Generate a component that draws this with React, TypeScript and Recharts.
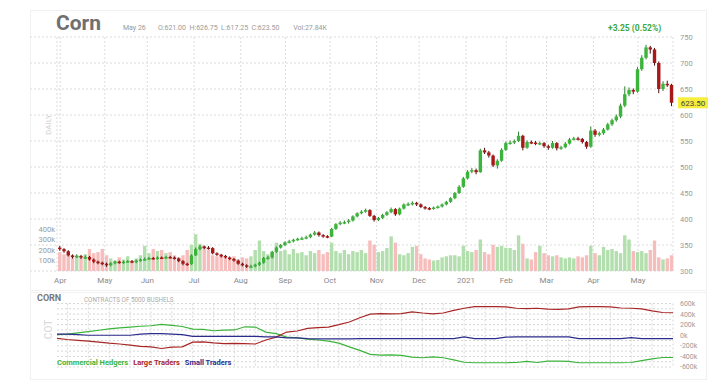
import {
  Bar,
  CartesianGrid,
  Cell,
  ComposedChart,
  Line,
  LineChart,
  ReferenceLine,
  XAxis,
  YAxis,
} from "recharts";

// one candle per two trading sessions, Apr 2020 .. May 26 2021
const closes = [
  342, 338, 330, 327, 329, 326, 327, 322, 318, 316,
  314, 311, 315, 318, 316, 318, 319, 317, 320, 322,
  323, 325, 324, 326, 325, 327, 326, 324, 319, 314,
  313, 330, 342, 347, 345, 344, 334, 331, 329, 326,
  323, 320, 314, 311, 309, 309, 312, 316, 325, 326,
  337, 345, 350, 355, 357, 360, 362, 363, 365, 370,
  374, 369, 367, 366, 381, 390, 393, 394, 397, 405,
  411, 414, 417, 406, 398, 402, 408, 413, 419, 409,
  420, 428, 429, 431, 428, 423, 421, 420, 422, 424,
  428, 433, 440, 450, 462, 478, 491, 494, 490, 532,
  528, 522, 503, 512, 533, 546, 547, 550, 560, 537,
  548, 547, 545, 546, 540, 537, 546, 536, 538, 545,
  553, 555, 554, 548, 539, 570, 562, 565, 572, 582,
  590, 597, 618, 640, 648, 645, 688, 710, 730, 726,
  700, 650, 660, 658, 623.5,
];

const highs = [
  348, 344, 340, 332, 332, 331, 330, 329, 324, 320,
  318, 316, 317, 320, 320, 320, 321, 321, 322, 324,
  326, 327, 327, 328, 328, 329, 329, 328, 326, 321,
  316, 332, 345, 350, 349, 348, 346, 336, 333, 331,
  328, 325, 322, 316, 313, 312, 314, 318, 327, 329,
  339, 347, 352, 357, 360, 362, 364, 366, 368, 372,
  377, 376, 371, 369, 383, 392, 396, 397, 400, 407,
  413, 417, 420, 419, 408, 404, 410, 415, 422, 421,
  422, 430, 432, 434, 433, 430, 425, 423, 424, 426,
  430, 435, 442, 452, 465, 481, 494, 498, 497, 535,
  537, 531, 524, 515, 536, 549, 551, 553, 568, 562,
  551, 551, 550, 549, 548, 543, 550, 548, 541, 548,
  556, 558, 558, 556, 550, 578, 573, 568, 575, 585,
  593, 601, 622, 655, 653, 651, 692, 715, 735, 733,
  729, 703, 665, 666, 660,
];

const lows = [
  339, 335, 328, 324, 325, 323, 323, 320, 315, 313,
  311, 308, 309, 313, 314, 314, 316, 315, 315, 318,
  320, 321, 322, 322, 323, 323, 324, 322, 317, 311,
  310, 312, 329, 340, 342, 341, 332, 329, 326, 324,
  321, 318, 312, 309, 306, 306, 307, 310, 314, 322,
  324, 335, 343, 348, 353, 355, 358, 360, 361, 363,
  368, 366, 364, 363, 365, 379, 388, 390, 391, 395,
  403, 409, 412, 404, 395, 396, 400, 406, 411, 406,
  407, 418, 425, 426, 425, 421, 418, 417, 418, 420,
  422, 426, 431, 438, 448, 460, 476, 488, 486, 489,
  525, 518, 500, 497, 510, 531, 543, 544, 548, 532,
  535, 544, 542, 542, 537, 533, 535, 532, 533, 536,
  543, 551, 551, 545, 535, 537, 558, 559, 562, 570,
  579, 587, 594, 615, 636, 640, 643, 685, 707, 718,
  695, 642, 646, 654, 617,
];

const firstOpen = 345;

// thousands of contracts
const volumes = [
  180, 160, 150, 140, 150, 130, 160, 210, 170, 180,
  210, 150, 120, 100, 130, 110, 140, 100, 120, 150,
  240, 170, 210, 190, 200, 170, 180, 150, 130, 150,
  200, 250, 350, 260, 240, 200, 150, 140, 160, 130,
  120, 140, 110, 130, 120, 140, 200, 290, 190, 160,
  180, 270, 190, 200, 160, 210, 170, 180, 150, 190,
  170, 200, 160, 180, 270, 190, 170, 200, 160, 190,
  180, 200, 170, 290, 250, 180, 190, 220, 330, 270,
  160, 150, 170, 230, 240, 160, 120, 110, 100, 105,
  130, 140, 150, 150, 140, 240, 190, 180, 200, 300,
  180, 160, 250, 230, 240, 220, 220, 200, 340, 260,
  120, 110, 180, 240, 170, 150, 140, 150, 130, 120,
  130, 120, 140, 130, 150, 240, 170, 150, 230, 200,
  210, 190, 170, 340, 300, 190, 180, 190, 170, 200,
  290, 130, 110, 120, 150,
];

const monthTicks = [0, 10.5, 20.5, 31.5, 42.5, 53, 63.5, 74.5, 84.5, 95.5, 105, 114.5, 125.5, 136];
const monthLabels = ["Apr", "May", "Jun", "Jul", "Aug", "Sep", "Oct", "Nov", "Dec", "2021", "Feb", "Mar", "Apr", "May"];
const priceTicks = [300, 350, 400, 450, 500, 550, 600, 650, 700, 750];
const volumeTicks = [100, 200, 300, 400];
const lastPrice = 623.5;

// weekly COT net positions, thousands of contracts
const commercialHedgers = [
  10, 20, 45, 70, 95, 120, 140, 155, 170, 180,
  205, 185, 165, 115, 110, 85, 95, 100, 160, 155,
  60, 30, -35, -50, -75, -90, -110, -150, -220, -285,
  -360, -375, -370, -380, -415, -425, -410, -425, -465, -510,
  -520, -520, -520, -520, -515, -495, -515, -490, -490, -495,
  -520, -520, -520, -520, -520, -515, -480, -445, -420, -420,
];
const largeTraders = [
  -60, -80, -95, -110, -130, -150, -165, -185, -210, -220,
  -250, -225, -220, -130, -125, -145, -160, -155, -160, -165,
  -90, -35, 60, 80, 130, 145, 155, 200, 250, 330,
  400, 410, 405, 410, 440, 420, 405, 420, 470, 510,
  540, 540, 540, 535, 510, 505, 510, 495, 490, 500,
  535, 540, 540, 535, 515, 510, 500, 460, 430, 425,
];
const smallTraders = [
  20, 20, 10, 0, 0, 0, 0, 0, 20, 30,
  30, 20, 10, -20, -20, -20, -20, -20, -20, -20,
  -30, -30, -50, -50, -65, -70, -70, -70, -70, -65,
  -65, -65, -65, -65, -65, -65, -65, -65, -65, -30,
  -65, -65, -65, -35, -30, -30, -30, -30, -30, -30,
  -65, -65, -65, -65, -65, -45, -65, -65, -65, -65,
];
const cotTicks = [-600, -400, -200, 0, 200, 400, 600];
const cotGridLevels = [-600, -500, -400, -300, -200, -100, 0, 100, 200, 300, 400, 500, 600];

const priceData = closes.map((close, i) => ({
  i,
  open: i === 0 ? firstOpen : closes[i - 1],
  close,
  high: highs[i],
  low: lows[i],
  range: [lows[i], highs[i]],
  vol: volumes[i],
}));

const cotData = commercialHedgers.map((ch, w) => ({
  w,
  ch,
  lt: largeTraders[w],
  st: smallTraders[w],
}));

const axisTick = { fill: "#9a9a9a", fontSize: 7.5 };

const Candle = (props: any) => {
  const { x, y, width, height, payload } = props;
  if (x == null || y == null || !payload) return null;
  const top = Math.min(y, y + height);
  const h = Math.abs(height);
  const { open, close, high, low } = payload;
  const k = h / Math.max(high - low, 0.001);
  const bodyTop = top + (high - Math.max(open, close)) * k;
  const bodyBottom = top + (high - Math.min(open, close)) * k;
  const up = close >= open;
  const cx = x + width / 2;
  return (
    <g>
      <line x1={cx} x2={cx} y1={top} y2={top + h} stroke={up ? "#2b7d2b" : "#4a0c0c"} strokeWidth={1} />
      <rect
        x={x}
        y={bodyTop}
        width={width}
        height={Math.max(bodyBottom - bodyTop, 1.5)}
        fill={up ? "#3cb43c" : "#a81818"}
      />
    </g>
  );
};

const LastPriceTag = (props: any) => {
  const vb = props.viewBox;
  if (!vb) return null;
  const x = vb.x + vb.width + 5;
  return (
    <g>
      <rect x={x} y={vb.y - 5.5} width={30} height={11} fill="#f6ee3c" />
      <text x={x + 15} y={vb.y + 3} textAnchor="middle" fontSize={8} fill="#444">
        {lastPrice.toFixed(2)}
      </text>
    </g>
  );
};

export default function App() {
  return (
    <div
      style={{
        position: "relative",
        width: 713,
        height: 383,
        fontFamily: "Roboto, sans-serif",
        background: "#fff",
        overflow: "hidden",
      }}
    >
      <style>{"body{margin:0}"}</style>
      <div style={{ position: "absolute", left: 30, top: 10, width: 675, height: 279, border: "1px solid #f1f1f1" }} />
      <div style={{ position: "absolute", left: 30, top: 292, width: 675, height: 86, border: "1px solid #f1f1f1" }} />

      <div style={{ position: "absolute", left: 56, top: 11, fontSize: 21, fontWeight: 700, color: "#707070" }}>
        Corn
      </div>
      <div style={{ position: "absolute", left: 123, top: 24, fontSize: 7, color: "#9a9a9a", whiteSpace: "pre" }}>
        {"May 26       O:621.00  H:626.75  L:617.25  C:623.50        Vol:27.84K"}
      </div>
      <div style={{ position: "absolute", left: 608, top: 23, fontSize: 8.5, fontWeight: 700, color: "#3aa83a" }}>
        +3.25 (0.52%)
      </div>
      <div
        style={{
          position: "absolute",
          left: 28,
          top: 120,
          width: 40,
          textAlign: "center",
          fontSize: 8,
          color: "#d0d0d0",
          transform: "rotate(-90deg)",
        }}
      >
        DAILY
      </div>

      <div style={{ position: "absolute", left: 0, top: 0 }}>
        <ComposedChart width={713} height={292} data={priceData} margin={{ top: 37, right: 0, bottom: 0, left: 0 }}>
          <CartesianGrid xAxisId="v" yAxisId="p" x={30} width={643} stroke="#dcdcdc" strokeDasharray="2 2" />
          <XAxis
            xAxisId="v"
            dataKey="i"
            type="number"
            domain={[-0.75, 144.25]}
            ticks={monthTicks}
            tickFormatter={(v: number) => monthLabels[monthTicks.indexOf(v)] ?? ""}
            axisLine={false}
            tickLine={false}
            tickSize={4}
            tick={{ fill: "#8a8a8a", fontSize: 8 }}
            height={21}
            interval={0}
          />
          <XAxis xAxisId="c" orientation="top" dataKey="i" type="number" domain={[-0.75, 144.25]} hide />
          <YAxis
            yAxisId="vol"
            orientation="left"
            domain={[0, 2229]}
            ticks={volumeTicks}
            interval={0}
            tickFormatter={(v: number) => `${v}k`}
            axisLine={false}
            tickLine={false}
            tickSize={0}
            tickMargin={2}
            tick={axisTick}
            width={57}
          />
          <YAxis
            yAxisId="p"
            orientation="right"
            domain={[300, 750]}
            ticks={priceTicks}
            interval={0}
            axisLine={false}
            tickLine={false}
            tickSize={0}
            tickMargin={7}
            tick={axisTick}
            width={40}
          />
          <Bar xAxisId="v" yAxisId="vol" dataKey="vol" barSize={3.4} isAnimationActive={false}>
            {priceData.map((d) => (
              <Cell key={d.i} fill={d.close >= d.open ? "#b2dfad" : "#f7bdbd"} />
            ))}
          </Bar>
          <Bar xAxisId="c" yAxisId="p" dataKey="range" barSize={3.4} shape={<Candle />} isAnimationActive={false} />
          <ReferenceLine xAxisId="c" yAxisId="p" y={lastPrice} stroke="none" label={<LastPriceTag />} />
        </ComposedChart>
      </div>

      <div style={{ position: "absolute", left: 37, top: 293, fontSize: 9, fontWeight: 700, color: "#777" }}>CORN</div>
      <div style={{ position: "absolute", left: 84, top: 296, fontSize: 6.3, color: "#aaa" }}>
        CONTRACTS OF 5000 BUSHELS
      </div>
      <div
        style={{
          position: "absolute",
          left: 28,
          top: 324,
          width: 40,
          textAlign: "center",
          fontSize: 10,
          color: "#d6d6d6",
          transform: "rotate(-90deg)",
        }}
      >
        COT
      </div>

      <div style={{ position: "absolute", left: 0, top: 293 }}>
        <LineChart width={713} height={82} data={cotData} margin={{ top: 10.5, right: 0, bottom: 8, left: 57 }}>
          <CartesianGrid
            stroke="#d8d8d8"
            strokeDasharray="2 2"
            verticalCoordinatesGenerator={(p: any) =>
              cotData
                .filter((d) => d.w % 2 === 1)
                .map((d) => p.offset.left + (d.w / 59) * p.offset.width)
            }
            horizontalCoordinatesGenerator={(p: any) =>
              cotGridLevels.map((v) => p.offset.top + ((600 - v) / 1200) * p.offset.height)
            }
          />
          <XAxis dataKey="w" type="number" domain={[0, 59]} hide />
          <YAxis
            orientation="right"
            domain={[-600, 600]}
            ticks={cotTicks}
            interval={0}
            tickFormatter={(v: number) => `${v}k`}
            axisLine={false}
            tickLine={false}
            tickSize={0}
            tickMargin={7}
            tick={{ fill: "#9a9a9a", fontSize: 7 }}
            width={40}
          />
          <Line dataKey="ch" stroke="#3cb43c" strokeWidth={1.2} dot={false} isAnimationActive={false} />
          <Line dataKey="lt" stroke="#a82626" strokeWidth={1.2} dot={false} isAnimationActive={false} />
          <Line dataKey="st" stroke="#2c2c8c" strokeWidth={1.2} dot={false} isAnimationActive={false} />
        </LineChart>
      </div>

      <div style={{ position: "absolute", left: 57, top: 358, fontSize: 7.5, fontWeight: 700, whiteSpace: "pre" }}>
        <span style={{ color: "#3cb43c", marginRight: 5 }}>Commercial Hedgers</span>
        <span style={{ color: "#a82626", marginRight: 5 }}>Large Traders</span>
        <span style={{ color: "#2c2c8c" }}>Small Traders</span>
      </div>
    </div>
  );
}
